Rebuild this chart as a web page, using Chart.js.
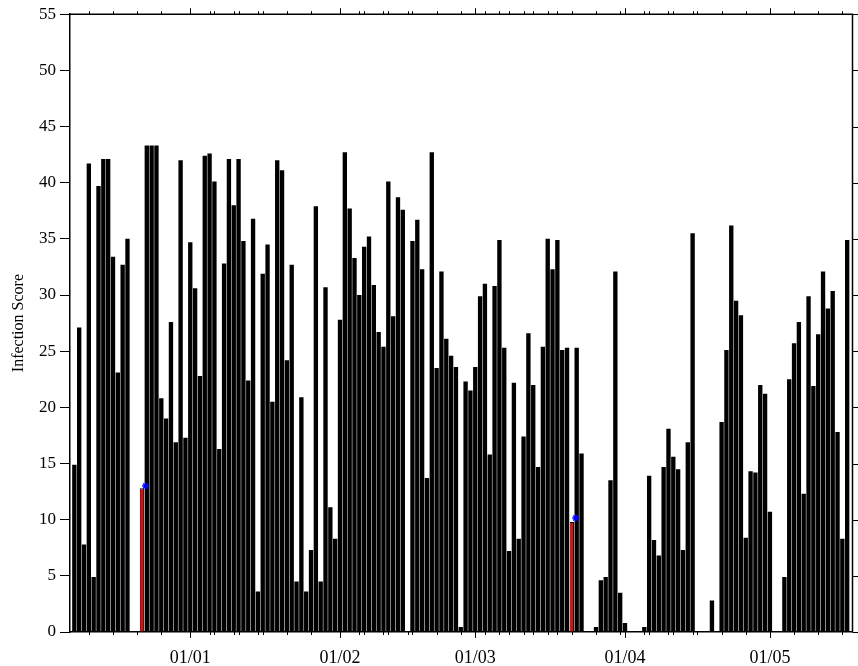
<!DOCTYPE html>
<html lang="en">
<head>
<meta charset="UTF-8" />
<title>Infection Score</title>
<script src="https://cdn.jsdelivr.net/npm/chart.js@4.4.1/dist/chart.umd.min.js"></script>
<style>
	html, body { margin: 0; padding: 0; background: #fff; }
	#wrap { width: 858px; height: 666px; }
</style>
</head>
<body>
<div id="wrap"><canvas id="myChart" width="858" height="666"></canvas></div>
<script>
	// one bar per day, day 1 = 08/12, day 25 = 01/01
	scores = [
		14.9, 27.1, 7.8, 41.7, 4.9, 39.7, 42.1, 42.1, 33.4, 23.1,
		32.7, 35.0, 0, 0, 12.8, 43.3, 43.3, 43.3, 20.8, 19.0,
		27.6, 16.9, 42.0, 17.3, 34.7, 30.6, 22.8, 42.4, 42.6, 40.1,
		16.3, 32.8, 42.1, 38.0, 42.1, 34.8, 22.4, 36.8, 3.6, 31.9,
		34.5, 20.5, 42.0, 41.1, 24.2, 32.7, 4.5, 20.9, 3.6, 7.3,
		37.9, 4.5, 30.7, 11.1, 8.3, 27.8, 42.7, 37.7, 33.3, 30.0,
		34.3, 35.2, 30.9, 26.7, 25.4, 40.1, 28.1, 38.7, 37.6, 0,
		34.8, 36.7, 32.3, 13.7, 42.7, 23.5, 32.1, 26.1, 24.6, 23.6,
		0.45, 22.3, 21.5, 23.6, 29.9, 31.0, 15.8, 30.8, 34.9, 25.3,
		7.2, 22.2, 8.3, 17.4, 26.6, 22.0, 14.7, 25.4, 35.0, 32.3,
		34.9, 25.1, 25.3, 9.8, 25.3, 15.9, 0, 0, 0.45, 4.6,
		4.9, 13.5, 32.1, 3.5, 0.8, 0, 0, 0, 0.45, 13.9,
		8.2, 6.8, 14.7, 18.1, 15.6, 14.5, 7.3, 16.9, 35.5, 0,
		0, 0, 2.8, 0, 18.7, 25.1, 36.2, 29.5, 28.2, 8.4,
		14.3, 14.2, 22.0, 21.2, 10.7, 0, 0, 4.9, 22.5, 25.7,
		27.6, 12.3, 29.9, 21.9, 26.5, 32.1, 28.8, 30.35, 17.8, 8.3,
		34.9
	];
	redDays = [15, 104];
	starX = [15.75, 104.8];
	starY = [13.0, 10.15];

	monthDays = [25, 56, 84, 115, 145];
	monthLabels = ['01/01', '01/02', '01/03', '01/04', '01/05'];
	minorDays = [4, 9, 14, 19, 29, 30, 34, 35, 39, 40, 45, 50, 60, 61, 65, 66, 70, 71,
		76, 81, 86, 89, 91, 94, 96, 99, 101, 104, 109, 114, 119, 120, 124, 125,
		129, 130, 135, 140, 150, 155, 160];
	yTicks = [0, 5, 10, 15, 20, 25, 30, 35, 40, 45, 50, 55];

	barData = scores.map((v, i) => ({x: i + 1, y: v}));
	starData = starX.map((x, i) => ({x: x, y: starY[i]}));

	Chart.defaults.font.family = "'Liberation Serif', 'DejaVu Serif', serif";
	Chart.defaults.color = '#000';

	const frame = {
		id: 'frame',
		afterDraw(chart) {
			const ctx = chart.ctx;
			const a = chart.chartArea;
			const x = chart.scales.x, y = chart.scales.y;
			function seg(x1, y1, x2, y2) {
				ctx.beginPath(); ctx.moveTo(x1, y1); ctx.lineTo(x2, y2); ctx.stroke();
			}
			ctx.save();
			ctx.strokeStyle = '#000';
			ctx.lineWidth = 1.5;
			ctx.beginPath();
			ctx.moveTo(a.left, a.top); ctx.lineTo(a.right, a.top); ctx.lineTo(a.right, a.bottom);
			ctx.stroke();
			ctx.lineWidth = 1;
			yTicks.forEach(v => {
				const py = Math.round(y.getPixelForValue(v)) + 0.5;
				seg(a.right, py, a.right + 6, py);
			});
			monthDays.forEach(d => {
				const px = Math.round(x.getPixelForValue(d)) + 0.5;
				seg(px, a.bottom, px, a.bottom + 6);
				seg(px, a.top, px, a.top - 6);
			});
			minorDays.forEach(d => {
				const px = Math.round(x.getPixelForValue(d)) + 0.5;
				seg(px, a.bottom, px, a.bottom + 3);
				seg(px, a.top, px, a.top - 3);
			});
			ctx.restore();
		}
	};

	const ctx = document.getElementById('myChart').getContext('2d');
	const chart = new Chart(ctx, {
		type: 'bar',
		data: {
			datasets: [{
				label: 'score',
				data: barData,
				backgroundColor: c => redDays.includes(c.raw && c.raw.x) ? '#ff0000' : '#000000',
				borderColor: '#000000',
				borderWidth: c => redDays.includes(c.raw && c.raw.x) ? 1 : 0,
				barPercentage: 0.9,
				categoryPercentage: 1.0,
				order: 2
			}, {
				type: 'line',
				label: 'marker',
				data: starData,
				showLine: false,
				pointStyle: 'star',
				pointRadius: 3.5,
				borderColor: '#0000ff',
				backgroundColor: '#0000ff',
				borderWidth: 1.5,
				order: 1
			}]
		},
		options: {
			responsive: false,
			animation: false,
			layout: { padding: { top: 14, right: 4, left: 0, bottom: 0 } },
			plugins: { legend: { display: false }, tooltip: { enabled: false } },
			scales: {
				x: {
					type: 'linear',
					min: 0.1,
					max: 162.1,
					offset: false,
					grid: { display: true, drawOnChartArea: false, drawTicks: false, color: 'rgba(0,0,0,0)' },
					border: { display: true, color: '#000', width: 1.5 },
					afterBuildTicks: s => { s.ticks = monthDays.map(v => ({value: v})); },
					ticks: {
						autoSkip: false,
						maxRotation: 0,
						padding: 15,
						font: { size: 18 },
						callback: v => monthLabels[monthDays.indexOf(v)]
					},
					afterFit: s => { s.height = 34; }
				},
				y: {
					min: 0,
					max: 55,
					ticks: { stepSize: 5, padding: 4, font: { size: 17 } },
					grid: { display: true, drawOnChartArea: false, drawTicks: true, tickLength: 10, color: '#000', lineWidth: 1 },
					border: { display: true, color: '#000', width: 1.5 },
					title: { display: true, text: 'Infection Score', font: { size: 16 }, padding: { top: 9, bottom: 0 } },
					afterFit: s => { s.width = 70; }
				}
			}
		},
		plugins: [frame]
	});
</script>
</body>
</html>
